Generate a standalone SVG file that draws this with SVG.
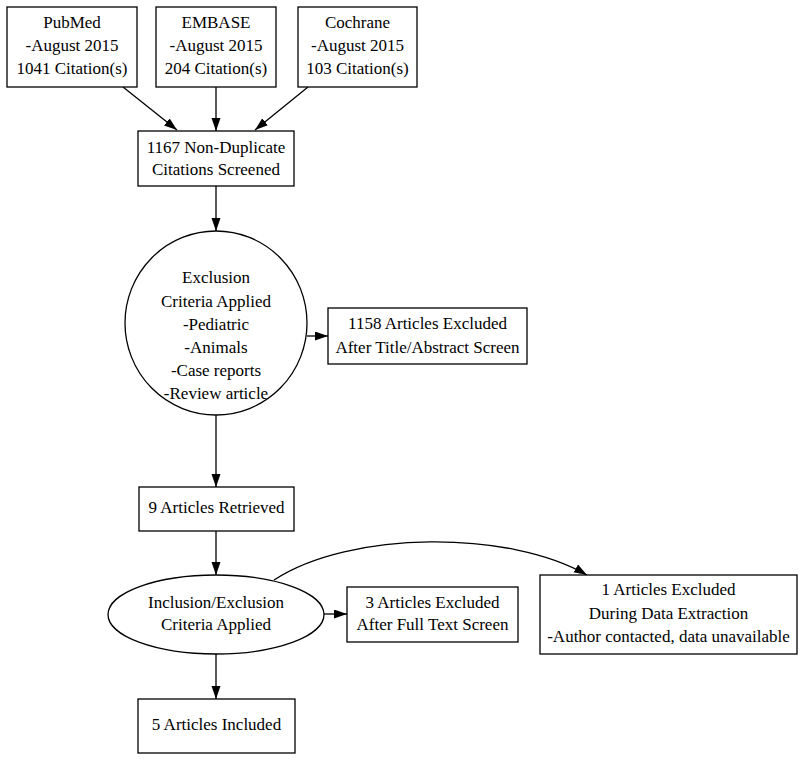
<svg xmlns="http://www.w3.org/2000/svg" width="800" height="759" viewBox="0 0 800 759">
<style>
.n{fill:#fff;stroke:#000;stroke-width:1.3}
.t{font-family:"Liberation Serif","Times New Roman",serif;font-size:17px;fill:#000;text-anchor:middle}
.e{fill:none;stroke:#000;stroke-width:1.3}
</style>
<defs>
<marker id="ah" markerUnits="userSpaceOnUse" markerWidth="14" markerHeight="10" refX="13" refY="4.5" orient="auto">
<path d="M0,0 L13,4.5 L0,9 z" fill="#000"/>
</marker>
</defs>
<rect width="800" height="759" fill="#fff"/>
<g id="edges">
<path class="e" d="M123,87 L177,130" marker-end="url(#ah)"/>
<path class="e" d="M216,87 L216,131" marker-end="url(#ah)"/>
<path class="e" d="M308,87 L255,130" marker-end="url(#ah)"/>
<path class="e" d="M216,186 L216,231" marker-end="url(#ah)"/>
<path class="e" d="M307,336 L328,336" marker-end="url(#ah)"/>
<path class="e" d="M216,415 L216,487" marker-end="url(#ah)"/>
<path class="e" d="M216,531 L216,575" marker-end="url(#ah)"/>
<path class="e" d="M324,614 L347,614" marker-end="url(#ah)"/>
<path class="e" d="M274,580 C350,530 510,530 587,575" marker-end="url(#ah)"/>
<path class="e" d="M216,654 L216,699" marker-end="url(#ah)"/>
</g>
<g id="pubmed">
<rect class="n" x="7" y="7" width="130" height="80"/>
<text class="t" x="72" y="28">PubMed</text>
<text class="t" x="72" y="51">-August 2015</text>
<text class="t" x="72" y="74">1041 Citation(s)</text>
</g>
<g id="embase">
<rect class="n" x="156" y="7" width="120" height="80"/>
<text class="t" x="216" y="28">EMBASE</text>
<text class="t" x="216" y="51">-August 2015</text>
<text class="t" x="216" y="74">204 Citation(s)</text>
</g>
<g id="cochrane">
<rect class="n" x="298" y="7" width="119" height="80"/>
<text class="t" x="357.5" y="28">Cochrane</text>
<text class="t" x="357.5" y="51">-August 2015</text>
<text class="t" x="357.5" y="74">103 Citation(s)</text>
</g>
<g id="nondup">
<rect class="n" x="138" y="131" width="156" height="55"/>
<text class="t" x="216" y="153">1167 Non-Duplicate</text>
<text class="t" x="216" y="175">Citations Screened</text>
</g>
<g id="exclusion">
<ellipse class="n" cx="216" cy="323" rx="91" ry="92"/>
<text class="t" x="216" y="283">Exclusion</text>
<text class="t" x="216" y="307">Criteria Applied</text>
<text class="t" x="216" y="330">-Pediatric</text>
<text class="t" x="216" y="353">-Animals</text>
<text class="t" x="216" y="376">-Case reports</text>
<text class="t" x="216" y="399">-Review article</text>
</g>
<g id="excluded1158">
<rect class="n" x="328" y="308" width="199" height="56"/>
<text class="t" x="427.5" y="329">1158 Articles Excluded</text>
<text class="t" x="427.5" y="353">After Title/Abstract Screen</text>
</g>
<g id="retrieved">
<rect class="n" x="139" y="487" width="155" height="44"/>
<text class="t" x="216.5" y="513">9 Articles Retrieved</text>
</g>
<g id="inclusion">
<ellipse class="n" cx="216" cy="614.5" rx="108" ry="39.5"/>
<text class="t" x="216" y="608">Inclusion/Exclusion</text>
<text class="t" x="216" y="630">Criteria Applied</text>
</g>
<g id="excluded3">
<rect class="n" x="347" y="587" width="171" height="55"/>
<text class="t" x="432.5" y="608">3 Articles Excluded</text>
<text class="t" x="432.5" y="630">After Full Text Screen</text>
</g>
<g id="excluded1">
<rect class="n" x="540" y="575" width="257" height="79"/>
<text class="t" x="668.5" y="595">1 Articles Excluded</text>
<text class="t" x="668.5" y="619">During Data Extraction</text>
<text class="t" x="668.5" y="642">-Author contacted, data unavailable</text>
</g>
<g id="included">
<rect class="n" x="138" y="699" width="157" height="54"/>
<text class="t" x="216.5" y="730">5 Articles Included</text>
</g>
</svg>
